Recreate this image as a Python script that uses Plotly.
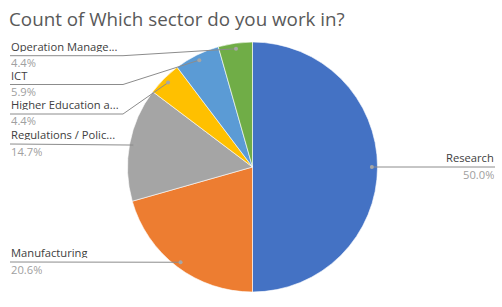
import math
import plotly.graph_objects as go

# ---- data ----
categories = ["Research", "Manufacturing", "Regulations / Policy",
              "Higher Education and Training", "ICT", "Operation Management"]
short_labels = ["Research", "Manufacturing", "Regulations / Polic...",
                "Higher Education a...", "ICT", "Operation Manage..."]
counts = [34, 14, 10, 3, 4, 3]
colors = ["#4472C4", "#ED7D31", "#A5A5A5", "#FFC000", "#5B9BD5", "#70AD47"]
title_text = "Count of Which sector do you work in?"

# ---- layout constants (pixels) ----
W, H = 502, 307
CX, CY, R = 252.5, 167.0, 125.0
DOT_R = 0.955
# label line y and side for each slice; elbow x for left-hand labels
label_line_y = [167, 262, 144, 114, 84.5, 55.7]
label_side = ["right", "left", "left", "left", "left", "left"]
ELBOW_X = 123
LEFT_X, RIGHT_X = 10, 495
FONT = "Open Sans"
FS = 11.2

def px(x):
    return x / W

def py(y):
    return 1 - y / H

fig = go.Figure(go.Pie(
    labels=categories, values=counts, sort=False, direction="clockwise",
    rotation=0, textinfo="none", hoverinfo="label+value+percent",
    marker=dict(colors=colors, line=dict(color="white", width=0.6)),
    domain=dict(x=[px(CX - R), px(CX + R)], y=[py(CY + R), py(CY - R)]),
    showlegend=False,
))

total = sum(counts)
shapes, annotations = [], []
cum = 0
for lab, v, ly, side in zip(short_labels, counts, label_line_y, label_side):
    mid = (cum + v / 2) / total * 2 * math.pi
    cum += v
    dx = CX + DOT_R * R * math.sin(mid)
    dy = CY - DOT_R * R * math.cos(mid)
    pct = f"{v / total * 100:.1f}%"
    if side == "right":
        path = f"M {px(dx)},{py(dy)} L {px(RIGHT_X)},{py(ly)}"
        xanchor, xt = "right", px(RIGHT_X)
    else:
        if abs(dy - ly) < 1.5:
            path = f"M {px(dx)},{py(dy)} L {px(LEFT_X)},{py(ly)}"
        else:
            path = (f"M {px(dx)},{py(dy)} L {px(ELBOW_X)},{py(ly)} "
                    f"L {px(LEFT_X)},{py(ly)}")
        xanchor, xt = "left", px(LEFT_X)
    shapes.append(dict(type="path", xref="paper", yref="paper", path=path,
                       line=dict(color="#8C8C8C", width=1)))
    shapes.append(dict(type="circle", xref="paper", yref="paper",
                       x0=px(dx - 2), x1=px(dx + 2), y0=py(dy + 2), y1=py(dy - 2),
                       fillcolor="#A6A6A6", line=dict(width=0)))
    annotations.append(dict(x=xt, y=py(ly - 10), xref="paper", yref="paper",
                            text=lab, showarrow=False, xanchor=xanchor,
                            yanchor="middle", align=xanchor, borderpad=0,
                            height=12,
                            font=dict(family=FONT, size=FS, color="#404040")))
    annotations.append(dict(x=xt, y=py(ly + 6.5), xref="paper", yref="paper",
                            text=pct, showarrow=False, xanchor=xanchor,
                            yanchor="middle", align=xanchor, borderpad=0,
                            height=12,
                            font=dict(family=FONT, size=FS, color="#A0A0A0")))

fig.update_layout(
    width=W, height=H, margin=dict(l=0, r=0, t=0, b=0),
    paper_bgcolor="white", plot_bgcolor="white",
    title=dict(text=title_text, x=9 / W, xanchor="left", y=1 - 19 / H,
               yanchor="middle",
               font=dict(family=FONT, size=18.8, color="#595959")),
    shapes=shapes, annotations=annotations,
)

fig.write_html("out.html")
